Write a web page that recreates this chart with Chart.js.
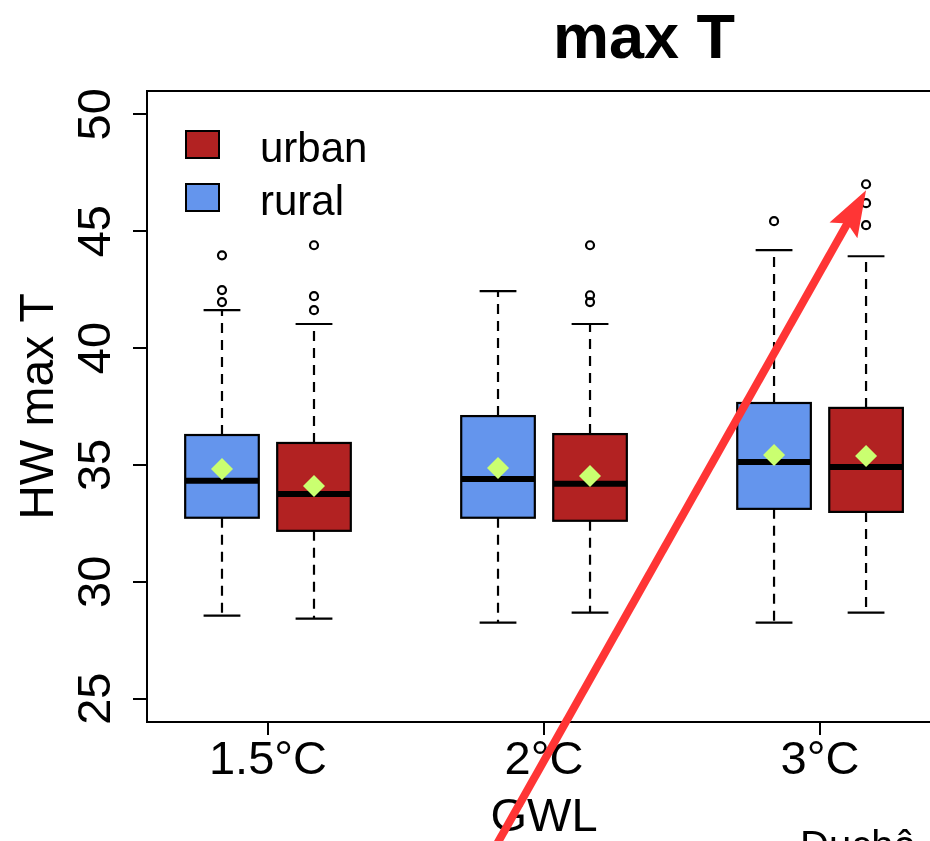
<!DOCTYPE html>
<html>
<head>
<meta charset="utf-8">
<script src="https://cdn.jsdelivr.net/npm/chart.js@4.4.0/dist/chart.umd.min.js"></script>
<style>
  html, body { margin: 0; padding: 0; background: #fff; overflow: hidden; }
</style>
</head>
<body>
<canvas id="chart1" width="930" height="841"></canvas>
<script>
// warming levels and y ticks
const gwlLabels = ["1.5°C", "2°C", "3°C"];
const yTickValues = [25, 30, 35, 40, 45, 50];

// rural boxes (one value per warming level)
const ruralLow    = [28.55, 28.25, 28.25];
const ruralQ1     = [32.74, 32.74, 33.12];
const ruralMedian = [34.32, 34.40, 35.13];
const ruralQ3     = [36.28, 37.09, 37.65];
const ruralHigh   = [41.62, 42.44, 44.19];
const ruralMean   = [34.83, 34.87, 35.43];
const ruralOut    = [[41.97, 42.48, 43.97], [], [45.43]];

// urban boxes
const urbanLow    = [28.42, 28.68, 28.68];
const urbanQ1     = [32.18, 32.61, 32.99];
const urbanMedian = [33.76, 34.19, 34.91];
const urbanQ3     = [35.94, 36.32, 37.44];
const urbanHigh   = [41.03, 41.03, 43.93];
const urbanMean   = [34.10, 34.53, 35.38];
const urbanOut    = [[41.62, 42.22, 44.40], [41.97, 42.26, 44.40], [45.26, 46.20, 47.01]];

const series = [
  { name: "rural", color: "#6495ED", shift: 0, low: ruralLow, q1: ruralQ1, med: ruralMedian, q3: ruralQ3, high: ruralHigh, mean: ruralMean, out: ruralOut },
  { name: "urban", color: "#B22222", shift: 1, low: urbanLow, q1: urbanQ1, med: urbanMedian, q3: urbanQ3, high: urbanHigh, mean: urbanMean, out: urbanOut }
];
const legendOrder = ["urban", "rural"];

// box i of a series sits at 1,2 / 4,5 / 7,8 like R boxplot(at=...)
const boxX = (i, shift) => 3 * i + 1 + shift;

const FONT = "'Liberation Sans', Arial, Helvetica, sans-serif";
const meanColor = "#CAFF70";
const arrowColor = "#FF3535";

const boxPlugin = {
  id: "boxes",
  beforeDatasetsDraw(chart) {
    const { ctx, scales: { x, y } } = chart;
    ctx.save();
    ctx.strokeStyle = "#000";
    series.forEach(s => {
      gwlLabels.forEach((_, i) => {
        const c = boxX(i, s.shift);
        const xc = x.getPixelForValue(c);
        const xl = x.getPixelForValue(c - 0.4), xr = x.getPixelForValue(c + 0.4);
        const sl = x.getPixelForValue(c - 0.2), sr = x.getPixelForValue(c + 0.2);
        const ylo = y.getPixelForValue(s.low[i]), yhi = y.getPixelForValue(s.high[i]);
        const yq1 = y.getPixelForValue(s.q1[i]), yq3 = y.getPixelForValue(s.q3[i]);
        const ymed = y.getPixelForValue(s.med[i]);

        // dashed whiskers
        ctx.lineWidth = 2.2;
        ctx.setLineDash([10, 7]);
        ctx.beginPath();
        ctx.moveTo(xc, yq1); ctx.lineTo(xc, ylo);
        ctx.moveTo(xc, yq3); ctx.lineTo(xc, yhi);
        ctx.stroke();
        ctx.setLineDash([]);
        // staples
        ctx.beginPath();
        ctx.moveTo(sl, ylo); ctx.lineTo(sr, ylo);
        ctx.moveTo(sl, yhi); ctx.lineTo(sr, yhi);
        ctx.stroke();
        // box
        ctx.fillStyle = s.color;
        ctx.fillRect(xl, yq3, xr - xl, yq1 - yq3);
        ctx.strokeRect(xl, yq3, xr - xl, yq1 - yq3);
        // median
        ctx.lineWidth = 6;
        ctx.beginPath();
        ctx.moveTo(xl, ymed); ctx.lineTo(xr, ymed);
        ctx.stroke();
      });
    });
    ctx.restore();
  }
};

const decorPlugin = {
  id: "decor",
  afterDraw(chart) {
    const { ctx, chartArea: a, scales: { x, y } } = chart;
    ctx.save();

    // frame (right side is outside the picture)
    ctx.strokeStyle = "#000";
    ctx.lineWidth = 2;
    ctx.beginPath();
    ctx.moveTo(a.right + 20, a.top);
    ctx.lineTo(a.left, a.top);
    ctx.lineTo(a.left, a.bottom);
    ctx.lineTo(a.right + 20, a.bottom);
    ctx.stroke();

    // y tick labels, rotated like R's default
    ctx.fillStyle = "#000";
    ctx.font = "47px " + FONT;
    ctx.textAlign = "center";
    ctx.textBaseline = "alphabetic";
    y.ticks.forEach(t => {
      ctx.save();
      ctx.translate(a.left - 37, y.getPixelForValue(t.value));
      ctx.rotate(-Math.PI / 2);
      ctx.fillText(String(t.value), 0, 0);
      ctx.restore();
    });

    // y title
    ctx.save();
    ctx.font = "48px " + FONT;
    ctx.translate(53, (a.top + a.bottom) / 2);
    ctx.rotate(-Math.PI / 2);
    ctx.fillText("HW max T", 0, 0);
    ctx.restore();

    // x title
    ctx.font = "47px " + FONT;
    ctx.fillText("GWL", x.getPixelForValue(4.5), 831);

    // main title
    ctx.font = "bold 63px " + FONT;
    ctx.fillText("max T", 644, 58);

    // leftover text of the next panel, cut by the picture edge
    ctx.font = "40px " + FONT;
    ctx.textAlign = "left";
    ctx.fillText("Duchê", 800, 859);

    // legend
    ctx.font = "42px " + FONT;
    legendOrder.forEach((name, k) => {
      const s = series.find(d => d.name === name);
      const top = 131 + k * 53;
      ctx.fillStyle = s.color;
      ctx.fillRect(186, top, 33, 27);
      ctx.strokeStyle = "#000";
      ctx.lineWidth = 2;
      ctx.strokeRect(186, top, 33, 27);
      ctx.fillStyle = "#000";
      ctx.fillText(name, 260, top + 31);
    });

    // red arrow annotation pointing at the top urban 3°C outlier
    const tail = { x: x.getPixelForValue(3.92), y: y.getPixelForValue(18.3) };
    const tip = { x: x.getPixelForValue(boxX(2, 1)), y: y.getPixelForValue(46.75) };
    const len = Math.hypot(tip.x - tail.x, tip.y - tail.y);
    const ux = (tip.x - tail.x) / len, uy = (tip.y - tail.y) / len;
    const nx = -uy, ny = ux;
    ctx.strokeStyle = arrowColor;
    ctx.fillStyle = arrowColor;
    ctx.lineWidth = 8;
    ctx.beginPath();
    ctx.moveTo(tail.x, tail.y);
    ctx.lineTo(tip.x - 36 * ux, tip.y - 36 * uy);
    ctx.stroke();
    ctx.beginPath();
    ctx.moveTo(tip.x, tip.y);
    ctx.lineTo(tip.x - 46 * ux + 16 * nx, tip.y - 46 * uy + 16 * ny);
    ctx.lineTo(tip.x - 38 * ux, tip.y - 38 * uy);
    ctx.lineTo(tip.x - 46 * ux - 16 * nx, tip.y - 46 * uy - 16 * ny);
    ctx.closePath();
    ctx.fill();

    ctx.restore();
  }
};

const meanSets = series.map(s => ({
  label: s.name + " mean",
  data: gwlLabels.map((_, i) => ({ x: boxX(i, s.shift), y: s.mean[i] })),
  pointStyle: "rectRot",
  pointRadius: 11,
  backgroundColor: meanColor,
  borderWidth: 0
}));

const outlierSets = series.map(s => ({
  label: s.name + " outliers",
  data: s.out.flatMap((vals, i) => vals.map(v => ({ x: boxX(i, s.shift), y: v }))),
  pointStyle: "circle",
  pointRadius: 4,
  backgroundColor: "rgba(0,0,0,0)",
  borderColor: "#000",
  borderWidth: 2.2
}));

let chart1 = new Chart(document.getElementById("chart1").getContext("2d"), {
  type: "scatter",
  data: { datasets: meanSets.concat(outlierSets) },
  options: {
    responsive: false,
    animation: false,
    events: [],
    layout: { autoPadding: false, padding: { top: 91, right: 0, bottom: 0, left: 0 } },
    plugins: { legend: { display: false }, tooltip: { enabled: false }, title: { display: false } },
    scales: {
      x: {
        type: "linear",
        min: 0.185,
        max: 8.695,
        afterBuildTicks: scale => { scale.ticks = gwlLabels.map((_, i) => ({ value: 3 * i + 1.5 })); },
        afterFit: scale => { scale.height = 119; scale.paddingLeft = 0; scale.paddingRight = 0; },
        ticks: {
          callback: (v, i) => gwlLabels[i],
          font: { size: 47, family: FONT },
          color: "#000",
          padding: -2,
          maxRotation: 0,
          autoSkip: false
        },
        grid: { drawOnChartArea: false, drawTicks: true, tickLength: 13, color: "#000", lineWidth: 2 },
        border: { display: false }
      },
      y: {
        min: 24,
        max: 51,
        afterBuildTicks: scale => { scale.ticks = yTickValues.map(v => ({ value: v })); },
        afterFit: scale => { scale.width = 147; scale.paddingTop = 0; scale.paddingBottom = 0; },
        ticks: { display: false },
        grid: { drawOnChartArea: false, drawTicks: true, tickLength: 14, color: "#000", lineWidth: 2 },
        border: { display: false }
      }
    }
  },
  plugins: [boxPlugin, decorPlugin]
});
</script>
</body>
</html>
